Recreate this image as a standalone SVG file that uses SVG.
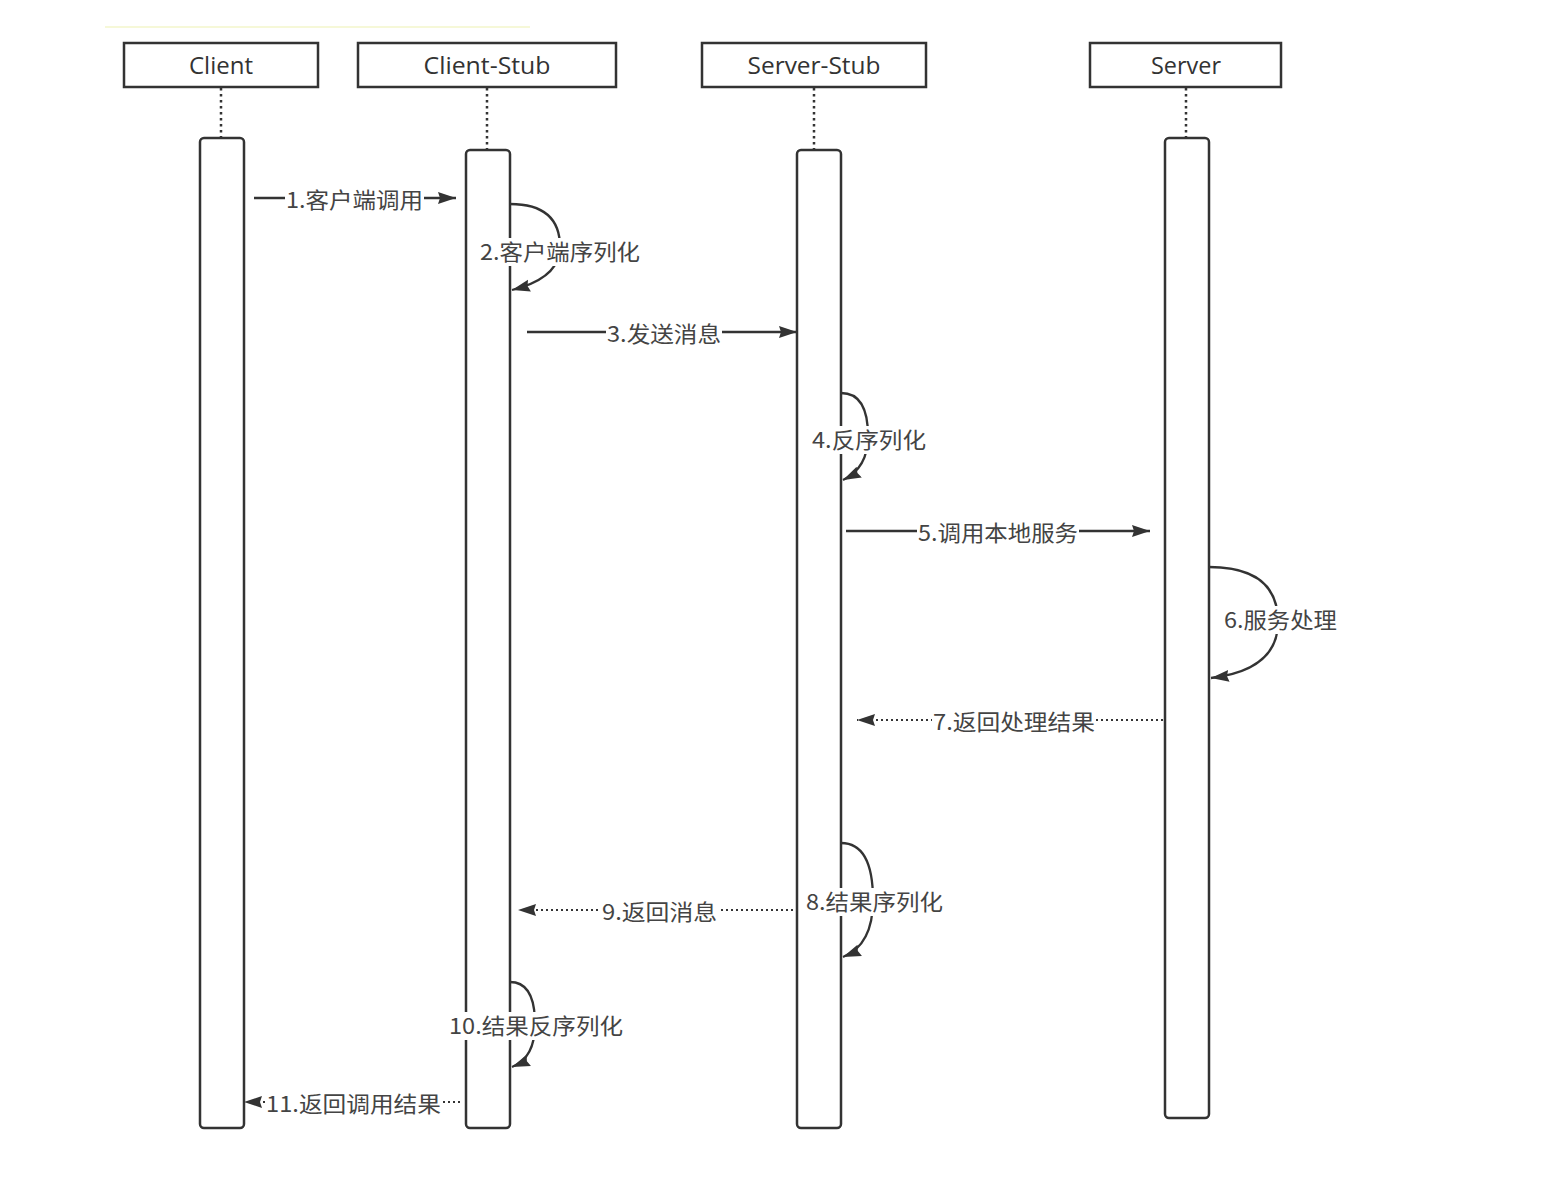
<svg xmlns="http://www.w3.org/2000/svg" width="1562" height="1202" viewBox="0 0 1562 1202">
<defs>
<marker id="arr" markerUnits="userSpaceOnUse" markerWidth="20" markerHeight="14" refX="18" refY="7" orient="auto">
<path d="M0,1 L18,7 L0,13 L2,7 z" fill="#333"/>
</marker>
<style>
.box{fill:#fff;stroke:#333;stroke-width:2.5}
.bar{fill:#fff;stroke:#333;stroke-width:2.5}
.life{stroke:#333;stroke-width:2.5;stroke-dasharray:2.5 3.5;fill:none}
.msg{stroke:#333;stroke-width:2.3;fill:none}
.dot{stroke:#333;stroke-width:2.2;stroke-dasharray:2 3;fill:none}
.hd{font-family:"Open Sans","Noto Sans","Noto Sans CJK SC",sans-serif;font-size:24px;fill:#333;text-anchor:middle}
.lb{font-family:"Noto Sans CJK SC",sans-serif;font-size:22px;fill:#444;text-anchor:middle}
.bg{fill:#fff}
</style>
</defs>
<rect width="1562" height="1202" fill="#fff"/>
<line x1="105" y1="27" x2="530" y2="27" stroke="#f6f8d8" stroke-width="2"/>

<g id="client">
<rect class="box" x="124" y="43" width="194" height="44"/>
<text class="hd" x="221" y="74" textLength="64" lengthAdjust="spacingAndGlyphs">Client</text>
<line class="life" x1="221" y1="88" x2="221" y2="138"/>
<rect class="bar" x="200" y="138" width="44" height="990" rx="4"/>
</g>
<g id="client-stub">
<rect class="box" x="358" y="43" width="258" height="44"/>
<text class="hd" x="487" y="74" textLength="127" lengthAdjust="spacingAndGlyphs">Client-Stub</text>
<line class="life" x1="487" y1="88" x2="487" y2="150"/>
<rect class="bar" x="466" y="150" width="44" height="978" rx="4"/>
</g>
<g id="server-stub">
<rect class="box" x="702" y="43" width="224" height="44"/>
<text class="hd" x="814" y="74" textLength="133" lengthAdjust="spacingAndGlyphs">Server-Stub</text>
<line class="life" x1="814" y1="88" x2="814" y2="150"/>
<rect class="bar" x="797" y="150" width="44" height="978" rx="4"/>
</g>
<g id="server">
<rect class="box" x="1090" y="43" width="191" height="44"/>
<text class="hd" x="1186" y="74" textLength="70" lengthAdjust="spacingAndGlyphs">Server</text>
<line class="life" x1="1186" y1="88" x2="1186" y2="138"/>
<rect class="bar" x="1165" y="138" width="44" height="980" rx="4"/>
</g>

<g id="connectors">
<!-- 1 -->
<line class="msg" x1="254" y1="198" x2="456" y2="198" marker-end="url(#arr)"/>
<rect class="bg" x="285" y="186" width="139" height="26"/>
<text class="lb" x="354.5" y="208" textLength="137" lengthAdjust="spacingAndGlyphs">1.客户端调用</text>
<!-- 2 -->
<path class="msg" d="M510,204 Q560,204 560,247 Q560,278 512,290" marker-end="url(#arr)"/>
<rect class="bg" x="479" y="238" width="162" height="28"/>
<text class="lb" x="560" y="260" textLength="160" lengthAdjust="spacingAndGlyphs">2.客户端序列化</text>
<!-- 3 -->
<line class="msg" x1="527" y1="332" x2="797" y2="332" marker-end="url(#arr)"/>
<rect class="bg" x="606" y="320" width="116" height="26"/>
<text class="lb" x="664" y="342" textLength="114" lengthAdjust="spacingAndGlyphs">3.发送消息</text>
<!-- 4 -->
<path class="msg" d="M841,393 Q868,393 868,436 Q868,468 843,480" marker-end="url(#arr)"/>
<rect class="bg" x="811" y="426" width="116" height="28"/>
<text class="lb" x="869" y="448" textLength="114" lengthAdjust="spacingAndGlyphs">4.反序列化</text>
<!-- 5 -->
<line class="msg" x1="846" y1="531" x2="1150" y2="531" marker-end="url(#arr)"/>
<rect class="bg" x="917" y="519" width="162" height="26"/>
<text class="lb" x="998" y="541" textLength="160" lengthAdjust="spacingAndGlyphs">5.调用本地服务</text>
<!-- 6 -->
<path class="msg" d="M1209,567 Q1278,567 1278,622 Q1278,670 1211,678" marker-end="url(#arr)"/>
<rect class="bg" x="1223" y="606" width="115" height="28"/>
<text class="lb" x="1280.5" y="628" textLength="113" lengthAdjust="spacingAndGlyphs">6.服务处理</text>
<!-- 7 -->
<line class="dot" x1="1163" y1="720" x2="857" y2="720" marker-end="url(#arr)"/>
<rect class="bg" x="932" y="708" width="164" height="26"/>
<text class="lb" x="1014" y="730" textLength="162" lengthAdjust="spacingAndGlyphs">7.返回处理结果</text>
<!-- 8 -->
<path class="msg" d="M841,843 Q873,843 873,900 Q873,945 843,957" marker-end="url(#arr)"/>
<rect class="bg" x="805" y="888" width="139" height="28"/>
<text class="lb" x="874.5" y="910" textLength="137" lengthAdjust="spacingAndGlyphs">8.结果序列化</text>
<!-- 9 -->
<line class="dot" x1="793" y1="910" x2="518" y2="910" marker-end="url(#arr)"/>
<rect class="bg" x="601" y="898" width="117" height="26"/>
<text class="lb" x="659.5" y="920" textLength="115" lengthAdjust="spacingAndGlyphs">9.返回消息</text>
<!-- 10 -->
<path class="msg" d="M510,982 Q535,982 535,1024 Q535,1058 512,1067" marker-end="url(#arr)"/>
<rect class="bg" x="448" y="1012" width="176" height="28"/>
<text class="lb" x="536" y="1034" textLength="174" lengthAdjust="spacingAndGlyphs">10.结果反序列化</text>
<!-- 11 -->
<line class="dot" x1="460" y1="1102" x2="244" y2="1102" marker-end="url(#arr)"/>
<rect class="bg" x="265" y="1090" width="177" height="26"/>
<text class="lb" x="353.5" y="1112" textLength="175" lengthAdjust="spacingAndGlyphs">11.返回调用结果</text>
</g>
</svg>
